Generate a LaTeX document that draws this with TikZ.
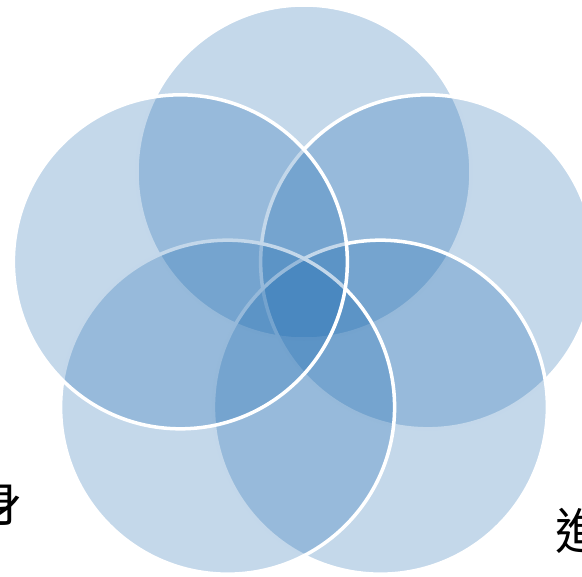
\documentclass[tikz,border=0pt]{standalone}
\usepackage{fontspec}
\usepackage{tikz}
\newfontfamily\cjk{Noto Sans CJK TC}
\definecolor{petalblue}{RGB}{18,99,172}

\begin{document}
\begin{tikzpicture}[x=0.02cm,y=-0.02cm,
  petal/.style={fill=petalblue,fill opacity=0.25,draw=white,line width=2pt},
  hanzi/.style={font=\cjk\fontsize{28}{28}\selectfont,inner sep=0pt}]
  \useasboundingbox (0,0) rectangle (582,577);
  % five petals, clockwise from the top
  \foreach \ang in {-90,-18,54,126,198}
    \path[petal] ([shift={(\ang:130)}]304,302) circle [radius=167];
  % labels cut by the page edge
  \node[hanzi] (shen) at (-2,503) {身};
  \node[hanzi] (jin) at (580,531) {進};
\end{tikzpicture}
\end{document}
